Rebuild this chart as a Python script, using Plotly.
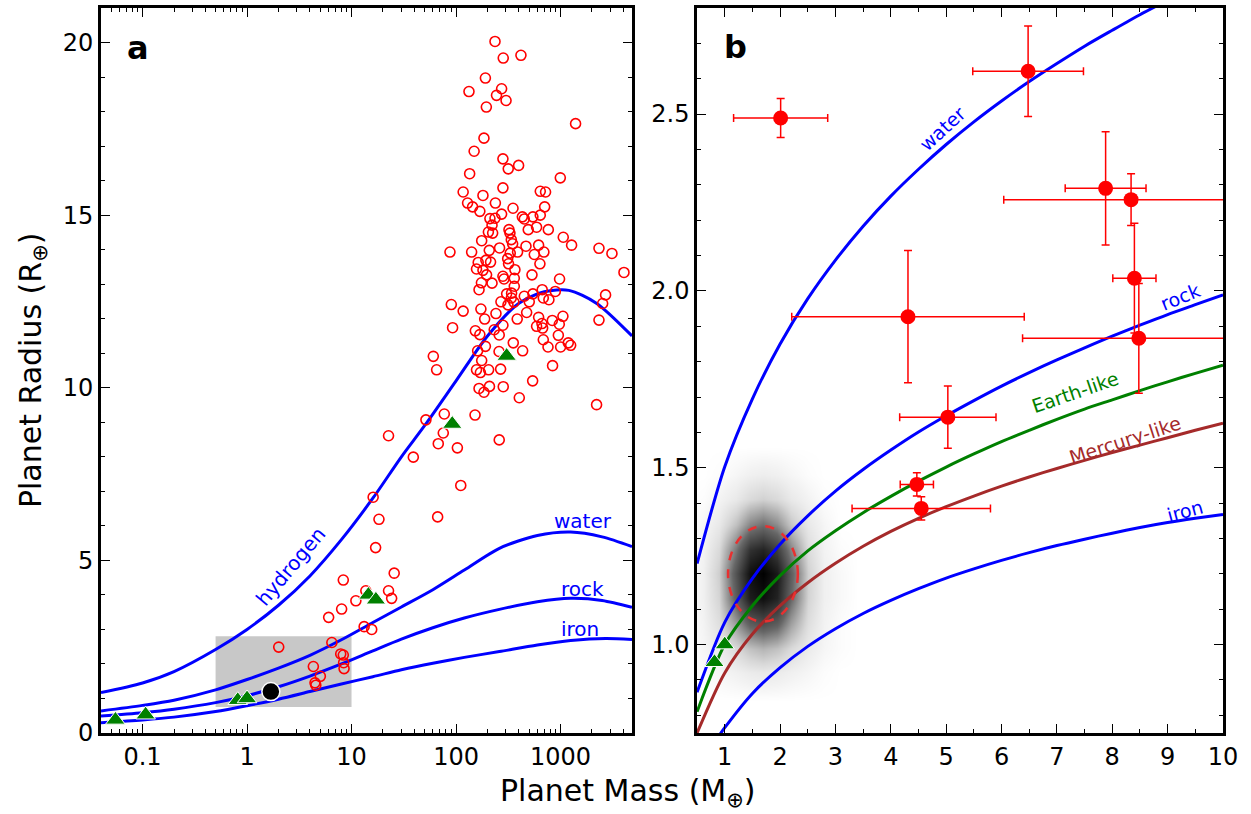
import math
import plotly.graph_objects as go

# ---------------- Panel a data ----------------
# model curves (mass in Earth masses, radius in Earth radii)
hyd_mass = [0.04, 0.1, 0.2, 0.5, 1, 2, 4, 8, 16, 30, 50, 100, 200, 400, 700, 1200, 2200, 4830]
hyd_rad = [1.17, 1.45, 1.78, 2.42, 3.0, 3.7, 4.55, 5.6, 6.8, 8.0, 8.9, 10.2, 11.5, 12.45, 12.78, 12.82, 12.45, 11.5]
wat_mass = [0.04, 0.1, 0.2, 0.5, 1, 2, 4, 8, 16, 30, 60, 120, 260, 600, 1250, 2500, 4830]
wat_rad = [0.64, 0.80, 0.95, 1.25, 1.55, 1.88, 2.25, 2.7, 3.2, 3.65, 4.15, 4.72, 5.35, 5.72, 5.82, 5.68, 5.40]
rock_mass = [0.04, 0.1, 0.2, 0.5, 1, 2, 4, 8, 16, 30, 60, 120, 260, 600, 1250, 2500, 4830]
rock_rad = [0.49, 0.59, 0.69, 0.88, 1.08, 1.34, 1.65, 2.0, 2.38, 2.72, 3.05, 3.33, 3.58, 3.80, 3.90, 3.84, 3.64]
iron_mass = [0.04, 0.1, 0.2, 0.5, 1, 2, 4, 8, 16, 30, 60, 120, 260, 600, 1250, 2700, 4830]
iron_rad = [0.30, 0.38, 0.46, 0.62, 0.79, 0.98, 1.2, 1.42, 1.63, 1.83, 2.02, 2.19, 2.36, 2.55, 2.68, 2.74, 2.71]

# known transiting planets (open circles)
exo_mass = [236, 283, 418, 191, 133, 273, 244, 301, 195, 1393, 185, 149, 281, 316, 397, 135, 995,
            117, 181, 281, 640, 719, 129, 144, 169, 238, 351, 273, 705, 640, 431, 450, 544, 211, 236,
            221, 204, 224, 321, 328, 491, 590, 764, 1062, 1276, 2333, 3105, 4046, 87.5, 141, 176, 208,
            261, 338, 348, 467, 388, 561, 617, 693, 635, 163, 193, 214, 318, 312, 330, 157, 181, 196,
            221, 175, 166, 281, 288, 366, 361, 533, 979, 361, 340, 305, 338, 358, 314, 269, 450, 502,
            544, 668, 684, 774, 891, 90.1, 117, 173, 188, 241, 385, 474, 617, 834, 1054, 973, 664, 674,
            590, 92.7, 153, 169, 232, 259, 281, 684, 953, 759, 1002, 1186, 1250, 2333, 2698, 2529, 353,
            434, 161, 191, 258, 176, 267, 157, 171, 205, 60.6, 65.2, 839, 541, 403, 166, 185, 209, 283,
            2213, 77.2, 152, 51.5,
            75.5, 67.6, 103, 22.6, 39, 111, 66.7, 259, 16.1, 18.3, 17.0, 25.6, 8.34, 22.6, 24.2, 13.7,
            11.0, 8.04, 6.04, 13.2, 15.6]
exo_rad = [20.03, 19.55, 19.63, 18.97, 18.58, 18.66, 18.47, 18.32, 18.13, 17.65, 17.23, 16.85, 16.63,
           16.34, 16.44, 16.20, 16.08, 15.67, 15.57, 15.79, 15.69, 15.67, 15.35, 15.24, 15.11, 15.35,
           15.20, 15.03, 15.24, 15.00, 14.95, 14.89, 14.95, 14.90, 14.91, 14.71, 14.51, 14.48, 14.58,
           14.48, 14.58, 14.65, 14.58, 14.36, 14.13, 14.04, 13.89, 13.34, 13.93, 13.93, 14.26, 13.98,
           14.05, 14.29, 14.17, 14.10, 13.93, 13.86, 14.13, 13.93, 13.59, 13.63, 13.69, 13.64, 13.59,
           13.74, 13.90, 13.44, 13.40, 13.27, 13.03, 13.04, 12.84, 13.23, 13.15, 13.42, 13.17, 13.27,
           13.15, 12.94, 12.74, 12.72, 12.60, 12.48, 12.40, 12.49, 12.65, 12.49, 12.72, 12.84, 12.60,
           12.55, 12.79, 12.41, 12.22, 12.28, 11.99, 12.15, 11.99, 12.18, 12.04, 11.95, 12.07, 11.84,
           11.86, 11.73, 11.78, 11.74, 11.65, 11.54, 11.68, 11.53, 11.81, 11.39, 11.52, 11.18, 11.18,
           11.30, 11.23, 11.96, 12.69, 12.44, 11.30, 11.07, 11.07, 11.20, 11.05, 10.79, 10.54, 10.52,
           10.44, 10.52, 10.91, 10.52, 10.64, 10.20, 9.71, 9.98, 9.87, 10.04, 10.03, 9.51, 9.24, 9.21,
           9.07,
           8.69, 8.38, 8.26, 8.61, 7.99, 7.17, 6.26, 8.49, 6.83, 6.19, 5.37, 4.63, 4.43, 4.12, 3.90,
           4.12, 3.83, 3.59, 3.35, 3.08, 3.00]

# solar system planets (green triangles)
sol_mass = [0.055, 0.107, 0.815, 1.0, 14.5, 17.1, 92, 305]
sol_rad = [0.38, 0.53, 0.95, 1.0, 4.0, 3.86, 8.95, 10.92]

# Kepler-78b
k78_mass = [1.69]
k78_rad = [1.20]

# shaded region (range of panel b)
box_mass = [0.5, 10]
box_rad = [0.75, 2.8]

# ---------------- Panel b data ----------------
b_mass = [0.5, 1.0, 1.5, 2.0, 2.5, 3.0, 3.5, 4.0, 4.5, 5.0, 5.5, 6.0, 6.5, 7.0, 7.5, 8.0, 8.5, 9.0, 9.5, 10.0]
bw_rad = [1.229, 1.503, 1.695, 1.85, 1.978, 2.087, 2.183, 2.268, 2.344, 2.414, 2.478, 2.537, 2.592, 2.643,
          2.692, 2.737, 2.781, 2.822, 2.862, 2.90]
br_rad = [0.865, 1.063, 1.187, 1.284, 1.364, 1.434, 1.495, 1.55, 1.601, 1.647, 1.69, 1.731, 1.769, 1.805,
          1.839, 1.872, 1.903, 1.933, 1.961, 1.989]
be_rad = [0.81, 1.0, 1.11, 1.195, 1.265, 1.322, 1.373, 1.419, 1.462, 1.502, 1.539, 1.574, 1.606, 1.637,
          1.666, 1.692, 1.718, 1.743, 1.767, 1.79]
bm_rad = [0.75, 0.92, 1.03, 1.11, 1.175, 1.23, 1.278, 1.32, 1.357, 1.39, 1.42, 1.448, 1.474, 1.498,
          1.521, 1.543, 1.564, 1.585, 1.606, 1.626]
bi_mass = [0.8, 1.0, 1.5, 2.0, 2.5, 3.0, 3.5, 4.0, 4.5, 5.0, 5.5, 6.0, 6.5, 7.0, 7.5, 8.0, 8.5, 9.0, 9.5, 10.0]
bi_rad = [0.72, 0.765, 0.862, 0.935, 0.995, 1.045, 1.088, 1.125, 1.158, 1.188, 1.214, 1.238, 1.26, 1.28,
          1.298, 1.315, 1.331, 1.345, 1.357, 1.368]

# small planets with masses (filled circles with error bars)
sp_mass = [2.01, 6.48, 7.88, 8.34, 8.40, 4.31, 8.48, 5.03, 4.47, 4.55]
sp_mass_err = [0.85, 1.0, 0.73, 2.3, 0.39, 2.1, 2.1, 0.87, 0.30, 1.25]
sp_rad = [2.489, 2.621, 2.29, 2.258, 2.036, 1.927, 1.866, 1.643, 1.453, 1.385]
sp_rad_err = [0.055, 0.128, 0.16, 0.073, 0.155, 0.187, 0.155, 0.088, 0.033, 0.033]

# Kepler-78b posterior density (relative darkness on a coarse grid)
dens_mass = [0.3, 0.6, 0.9, 1.2, 1.45, 1.7, 1.95, 2.2, 2.5, 2.8, 3.1, 3.4]
dens_rad = [0.84, 0.92, 0.99, 1.06, 1.13, 1.20, 1.27, 1.34, 1.41, 1.48, 1.56]
dens_z = [
    [0, 0, 0, 0, 0, 0, 0, 0, 0, 0, 0, 0],
    [0, 0.01, 0.03, 0.05, 0.07, 0.08, 0.07, 0.05, 0.03, 0.01, 0, 0],
    [0, 0.03, 0.07, 0.14, 0.22, 0.26, 0.22, 0.14, 0.07, 0.03, 0.01, 0],
    [0, 0.04, 0.12, 0.34, 0.55, 0.62, 0.55, 0.32, 0.12, 0.04, 0.01, 0],
    [0, 0.05, 0.16, 0.55, 0.86, 0.93, 0.83, 0.50, 0.16, 0.05, 0.02, 0],
    [0, 0.05, 0.18, 0.60, 0.93, 1.00, 0.88, 0.54, 0.17, 0.05, 0.02, 0],
    [0, 0.04, 0.14, 0.45, 0.76, 0.83, 0.70, 0.40, 0.13, 0.04, 0.01, 0],
    [0, 0.03, 0.08, 0.22, 0.40, 0.47, 0.38, 0.20, 0.08, 0.03, 0, 0],
    [0, 0.01, 0.04, 0.08, 0.14, 0.17, 0.14, 0.08, 0.04, 0.01, 0, 0],
    [0, 0, 0.01, 0.03, 0.05, 0.06, 0.05, 0.03, 0.01, 0, 0, 0],
    [0, 0, 0, 0, 0, 0, 0, 0, 0, 0, 0, 0],
]
# 1-sigma ellipse of Kepler-78b
ell_center = (1.69, 1.20)
ell_semi = (0.63, 0.135)

BLUE = "#0000ff"
GREEN = "#008000"
BROWN = "#a52a2a"
FONT = "DejaVu Sans"

fig = go.Figure()

# ---- panel a ----
fig.add_trace(go.Scatter(x=[box_mass[0], box_mass[1], box_mass[1], box_mass[0], box_mass[0]],
                         y=[box_rad[0], box_rad[0], box_rad[1], box_rad[1], box_rad[0]],
                         fill="toself", fillcolor="#c8c8c8", line=dict(width=0),
                         mode="lines", xaxis="x", yaxis="y", hoverinfo="skip"))
for mm, rr in [(hyd_mass, hyd_rad), (wat_mass, wat_rad), (rock_mass, rock_rad), (iron_mass, iron_rad)]:
    fig.add_trace(go.Scatter(x=mm, y=rr, mode="lines", line=dict(color=BLUE, width=3, shape="spline", smoothing=0.8),
                             xaxis="x", yaxis="y"))
fig.add_trace(go.Scatter(x=exo_mass + sp_mass, y=exo_rad + sp_rad, mode="markers",
                         marker=dict(symbol="circle-open", size=10, color="red", line=dict(width=1.6)),
                         xaxis="x", yaxis="y"))
fig.add_trace(go.Scatter(x=sol_mass, y=sol_rad, mode="markers",
                         marker=dict(symbol="triangle-up", size=17, color=GREEN, line=dict(color="white", width=1)),
                         xaxis="x", yaxis="y"))
fig.add_trace(go.Scatter(x=k78_mass, y=k78_rad, mode="markers",
                         marker=dict(symbol="circle", size=18, color="black", line=dict(color="white", width=1.5)),
                         xaxis="x", yaxis="y"))

# ---- panel b ----
fig.add_trace(go.Heatmap(x=dens_mass, y=dens_rad, z=dens_z, zsmooth="best", showscale=False,
                         colorscale=[[0, "rgba(0,0,0,0)"], [0.04, "rgba(0,0,0,0.05)"], [0.15, "rgba(0,0,0,0.16)"],
                                     [0.5, "rgba(0,0,0,0.6)"], [1, "rgba(0,0,0,1)"]],
                         zmin=0, zmax=1, xaxis="x2", yaxis="y2", hoverinfo="skip"))
for mm, rr, col in [(b_mass, bw_rad, BLUE), (b_mass, br_rad, BLUE), (b_mass, be_rad, GREEN),
                    (b_mass, bm_rad, BROWN), (bi_mass, bi_rad, BLUE)]:
    fig.add_trace(go.Scatter(x=mm, y=rr, mode="lines", line=dict(color=col, width=3, shape="spline", smoothing=0.8),
                             xaxis="x2", yaxis="y2"))
fig.add_trace(go.Scatter(x=sol_mass[2:4], y=sol_rad[2:4], mode="markers",
                         marker=dict(symbol="triangle-up", size=17, color=GREEN, line=dict(color="white", width=1)),
                         xaxis="x2", yaxis="y2"))
fig.add_trace(go.Scatter(x=sp_mass, y=sp_rad, mode="markers",
                         marker=dict(symbol="circle", size=15, color="red"),
                         error_x=dict(type="data", array=sp_mass_err, color="red", thickness=1.5, width=4),
                         error_y=dict(type="data", array=sp_rad_err, color="red", thickness=1.5, width=4),
                         xaxis="x2", yaxis="y2"))

fig.add_shape(type="circle", xref="x2", yref="y2",
              x0=ell_center[0] - ell_semi[0], x1=ell_center[0] + ell_semi[0],
              y0=ell_center[1] - ell_semi[1], y1=ell_center[1] + ell_semi[1],
              line=dict(color="#e83030", width=2.5, dash="dash"))

axis_common = dict(showline=True, linecolor="black", linewidth=2.5, mirror="allticks",
                   ticks="inside", ticklen=9, tickwidth=1.2, tickcolor="black",
                   showgrid=False, zeroline=False,
                   tickfont=dict(family=FONT, size=24, color="black"))

fig.update_layout(
    width=1251, height=814, showlegend=False,
    margin=dict(l=0, r=0, t=0, b=0, autoexpand=False),
    plot_bgcolor="white", paper_bgcolor="white",
    xaxis=dict(type="log", range=[-1.398, 3.684], domain=[0.0807, 0.5052], anchor="y",
               tickvals=[0.1, 1, 10, 100, 1000], ticktext=["0.1", "1", "10", "100", "1000"],
               minor=dict(ticks="inside", ticklen=4.5, tickwidth=1, tickcolor="black", dtick="D1", showgrid=False),
               **axis_common),
    yaxis=dict(range=[0, 21], domain=[0.0995, 0.9902], anchor="x", dtick=5,
               minor=dict(ticks="inside", ticklen=4.5, tickwidth=1, tickcolor="black", dtick=1, showgrid=False),
               **axis_common),
    xaxis2=dict(range=[0.5, 10], domain=[0.5572, 0.9776], anchor="y2", dtick=1,
                minor=dict(ticks="inside", ticklen=4.5, tickwidth=1, tickcolor="black", dtick=0.5, showgrid=False),
                **axis_common),
    yaxis2=dict(range=[0.75, 2.8], domain=[0.0995, 0.9902], anchor="x2", tickvals=[1.0, 1.5, 2.0, 2.5],
                tickformat=".1f",
                minor=dict(ticks="inside", ticklen=4.5, tickwidth=1, tickcolor="black", dtick=0.1, showgrid=False),
                **axis_common),
)

ann = []
# axis titles
ann.append(dict(text="Planet Mass (M<sub>⊕</sub>)", xref="paper", yref="paper", x=0.502, y=0.026,
                xanchor="center", yanchor="middle",
                showarrow=False, font=dict(family=FONT, size=30, color="black")))
ann.append(dict(text="Planet Radius (R<sub>⊕</sub>)", xref="paper", yref="paper", x=0.0265, y=0.5455,
                xanchor="center", yanchor="middle",
                textangle=-90, showarrow=False, font=dict(family=FONT, size=30, color="black")))
# panel letters
ann.append(dict(text="<b>a</b>", xref="x", yref="y", x=math.log10(0.09), y=19.85, showarrow=False,
                font=dict(family=FONT, size=32, color="black")))
ann.append(dict(text="<b>b</b>", xref="x2", yref="y2", x=1.19, y=2.69, showarrow=False,
                font=dict(family=FONT, size=32, color="black")))
# panel a curve labels
for txt, m, r, ang in [("hydrogen", 2.63, 4.84, -50), ("water", 1637, 6.14, 0), ("rock", 1637, 4.17, 0),
                       ("iron", 1530, 3.01, 0)]:
    ann.append(dict(text=txt, xref="x", yref="y", x=math.log10(m), y=r, textangle=ang, showarrow=False,
                    font=dict(family=FONT, size=20, color=BLUE)))
# panel b curve labels
for txt, m, r, ang, col in [("water", 4.92, 2.459, -43, BLUE), ("rock", 9.22, 1.983, -22, BLUE),
                            ("Earth-like", 7.33, 1.714, -19, GREEN), ("Mercury-like", 8.23, 1.578, -18, BROWN),
                            ("iron", 9.31, 1.377, -15, BLUE)]:
    ann.append(dict(text=txt, xref="x2", yref="y2", x=m, y=r, textangle=ang, showarrow=False,
                    font=dict(family=FONT, size=19, color=col)))
fig.update_layout(annotations=ann)

fig.write_html("out.html", config={"displayModeBar": False},
               post_script="document.body.style.margin='0';document.body.style.overflow='hidden';")
